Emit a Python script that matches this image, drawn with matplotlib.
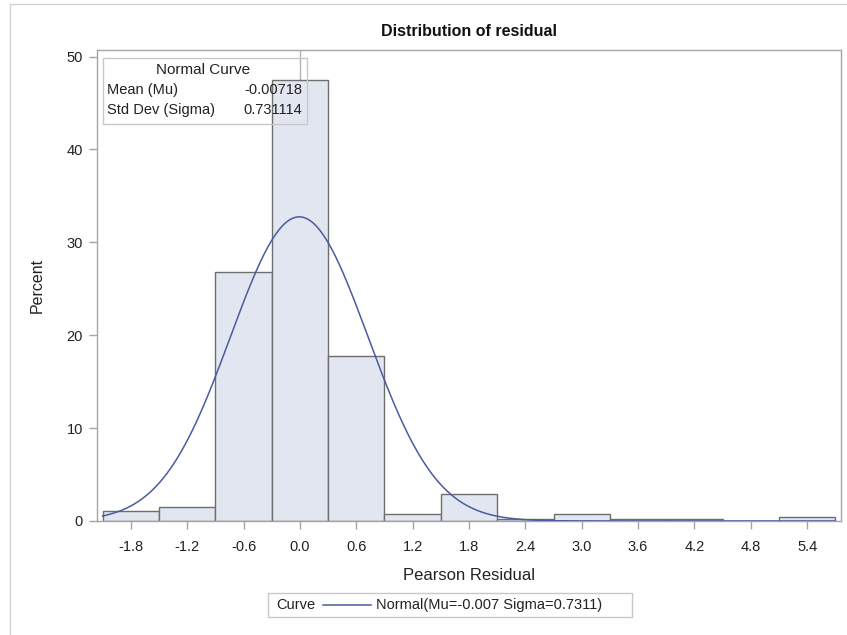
import numpy as np
import matplotlib
matplotlib.use('Agg')
import matplotlib.pyplot as plt
from matplotlib.patches import Rectangle
from matplotlib.lines import Line2D

plt.rcParams['font.family'] = ['Liberation Sans', 'DejaVu Sans']

# histogram of Pearson residuals (percent per bin, bin width 0.6)
bin_mid = [-1.8, -1.2, -0.6, 0.0, 0.6, 1.2, 1.8, 2.4, 3.0, 3.6, 4.2, 4.8, 5.4]
percent = [1.1, 1.5, 26.8, 47.5, 17.8, 0.75, 2.95, 0.2, 0.75, 0.2, 0.2, 0.0, 0.4]
bin_w = 0.6

# fitted normal curve parameters
mu = -0.00718
sigma = 0.731114
xticks = [-1.8, -1.2, -0.6, 0.0, 0.6, 1.2, 1.8, 2.4, 3.0, 3.6, 4.2, 4.8, 5.4]
yticks = [0, 10, 20, 30, 40, 50]

W, H = 847, 635
fig = plt.figure(figsize=(W/100, H/100), dpi=100)

def fx(px):
    return px / W

def fy(py):
    return 1 - py / H

frame_col = '#a5a5a5'
txt_col = '#222222'
ax = fig.add_axes([fx(97), fy(521), fx(841) - fx(97), fy(50) - fy(521)])

ax.bar(bin_mid, percent, width=bin_w, color='#e1e6f0', edgecolor='#6e6e6e',
       linewidth=1.0, zorder=2)
ax.axvline(0, color='#b4b4b4', linewidth=1.0, zorder=1)

xs = np.linspace(bin_mid[0] - bin_w/2, bin_mid[-1] + bin_w/2, 400)
dens = 100 * bin_w / (sigma * np.sqrt(2*np.pi)) * np.exp(-0.5*((xs - mu)/sigma)**2)
ax.plot(xs, dens, color='#4b5c9e', linewidth=1.1, zorder=3)

ax.set_xlim(-2.16, 5.76)
ax.set_ylim(0, 50.7)
ax.set_xticks(xticks)
ax.set_xticklabels([f'{t:.1f}' for t in xticks])
ax.set_yticks(yticks)
for s in ax.spines.values():
    s.set_color(frame_col)
    s.set_linewidth(1.0)
ax.tick_params(colors=frame_col, length=6, width=1.0, labelsize=10.5, pad=4)
ax.tick_params(axis='x', pad=8)
for lab in ax.get_xticklabels() + ax.get_yticklabels():
    lab.set_color(txt_col)

ax.set_xlabel('Pearson Residual', fontsize=12, color=txt_col, labelpad=10)
ax.set_ylabel('Percent', fontsize=11.5, color=txt_col, labelpad=16)
ax.set_title('Distribution of residual', fontsize=11.5, fontweight='bold',
             color='#111111', pad=10)

# inset table with fitted parameters
fig.patches.append(Rectangle((fx(103), fy(124)), fx(307) - fx(103), fy(58) - fy(124),
                             transform=fig.transFigure, fill=False,
                             edgecolor='#c8c8c8', linewidth=1.0))
fig.text(fx(203), fy(70), 'Normal Curve', ha='center', va='center', fontsize=11, color=txt_col)
fig.text(fx(107), fy(90), 'Mean (Mu)', ha='left', va='center', fontsize=10.5, color=txt_col)
fig.text(fx(302), fy(90), f'{mu:.5f}', ha='right', va='center', fontsize=10.5, color=txt_col)
fig.text(fx(107), fy(110), 'Std Dev (Sigma)', ha='left', va='center', fontsize=10.5, color=txt_col)
fig.text(fx(302), fy(110), f'{sigma:.6f}', ha='right', va='center', fontsize=10.5, color=txt_col)

# legend box at the bottom
fig.patches.append(Rectangle((fx(268), fy(617)), fx(632) - fx(268), fy(593) - fy(617),
                             transform=fig.transFigure, fill=False,
                             edgecolor='#c8c8c8', linewidth=1.0))
fig.text(fx(276), fy(605), 'Curve', ha='left', va='center', fontsize=10.5, color=txt_col)
fig.lines.append(Line2D([fx(323), fx(371)], [fy(605), fy(605)], transform=fig.transFigure,
                        color='#4b5c9e', linewidth=1.1))
fig.text(fx(376), fy(605), f'Normal(Mu={mu:.3f} Sigma={sigma:.4f})', ha='left', va='center',
         fontsize=10.5, color=txt_col)

# outer graph border
fig.lines.append(Line2D([fx(10), fx(10), fx(847)], [0, fy(4), fy(4)], transform=fig.transFigure,
                        color='#d2d2d2', linewidth=1.0))

fig.savefig('out.png', dpi=100)
